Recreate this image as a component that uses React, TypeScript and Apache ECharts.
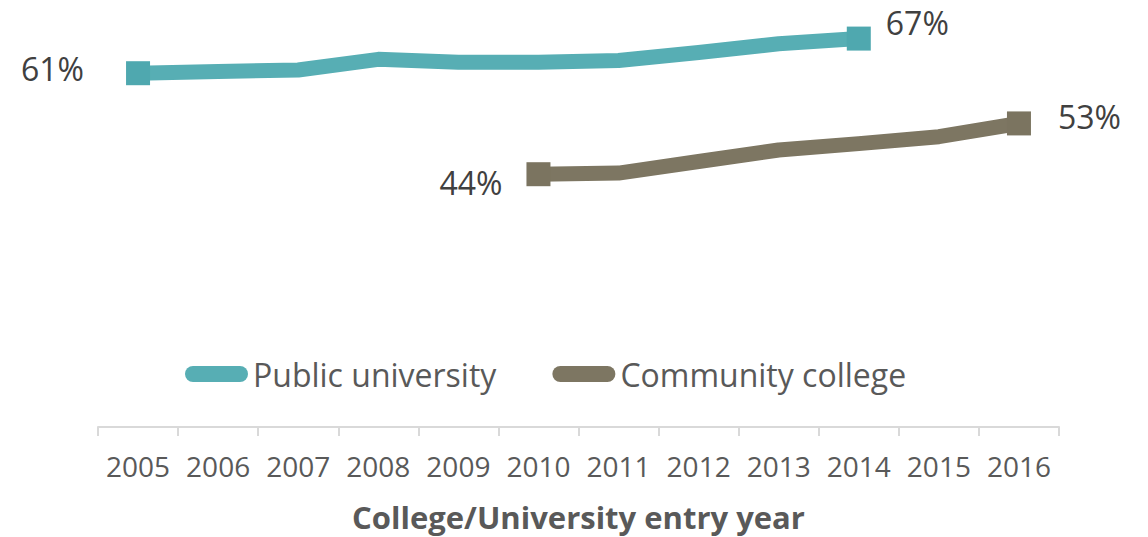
import React, { useEffect, useRef } from "react";
import * as echarts from "echarts";

const years = ["2005", "2006", "2007", "2008", "2009", "2010", "2011", "2012", "2013", "2014", "2015", "2016"];
const publicUniversity = [61.3, 61.6, 61.85, 63.7, 63.2, 63.2, 63.5, 64.9, 66.4, 67.3, null, null];
const communityCollege = [null, null, null, null, null, 43.8, 44.0, 46.0, 48.0, 49.1, 50.3, 52.6];
const seriesNames = ["Public university", "Community college"];
const axisTitle = "College/University entry year";

const TEAL = "#57AEB4";
const TEAL_MARK = "#4FA8AF";
const TAUPE = "#7D7662";
const TAUPE_MARK = "#7B7460";
const FONT = "'Open Sans', sans-serif";

type LabelCfg = { position: string; distance: number; offset: number[] };

function buildData(values: (number | null)[], first: LabelCfg, last: LabelCfg, markColor: string) {
  const idx = values.map((v, i) => (v == null ? -1 : i)).filter((i) => i >= 0);
  const a = idx[0];
  const b = idx[idx.length - 1];
  return values.map((v, i) => {
    if (v == null) return null;
    if (i === a || i === b) {
      const cfg = i === a ? first : last;
      return {
        value: v,
        symbol: "rect",
        symbolSize: 24,
        itemStyle: { color: markColor },
        label: {
          show: true,
          position: cfg.position,
          distance: cfg.distance,
          offset: cfg.offset,
          formatter: (p: any) => Math.round(p.value) + "%",
          fontFamily: FONT,
          fontSize: 32,
          color: "#404040",
        },
      };
    }
    return { value: v, symbol: "none" };
  });
}

export default function App() {
  const ref = useRef<HTMLDivElement>(null);
  useEffect(() => {
    document.body.style.margin = "0";
    const chart = echarts.init(ref.current!, null, { renderer: "svg" });
    const capsule = "path://M8,0 H55 A8,8 0 0 1 55,16 H8 A8,8 0 0 1 8,0 Z";
    chart.setOption({
      animation: false,
      grid: { left: 98, right: 89, top: 23, bottom: 109 },
      legend: {
        left: 185,
        top: 358,
        padding: 0,
        itemWidth: 63,
        itemHeight: 16,
        itemGap: 56,
        textStyle: { fontFamily: FONT, fontSize: 32, color: "#595959" },
        data: [
          { name: seriesNames[0], icon: capsule, itemStyle: { color: TEAL } },
          { name: seriesNames[1], icon: capsule, itemStyle: { color: TAUPE } },
        ],
      },
      xAxis: {
        type: "category",
        data: years,
        boundaryGap: true,
        axisLine: { lineStyle: { color: "#D9D9D9", width: 2 } },
        axisTick: { show: true, interval: 0, length: 9, lineStyle: { color: "#D9D9D9", width: 2 } },
        axisLabel: { interval: 0, margin: 25, fontFamily: FONT, fontSize: 28, color: "#595959" },
        name: axisTitle,
        nameLocation: "middle",
        nameGap: 74,
        nameTextStyle: { fontFamily: FONT, fontSize: 31, fontWeight: "bold", color: "#595959" },
      },
      yAxis: { type: "value", min: 0, max: 70, show: false },
      series: [
        {
          name: seriesNames[0],
          type: "line",
          symbol: "rect",
          symbolSize: 24,
          color: TEAL,
          lineStyle: { width: 15, color: TEAL, join: "round" },
          data: buildData(
            publicUniversity,
            { position: "left", distance: 42, offset: [0, -5] },
            { position: "right", distance: 15, offset: [0, -16] },
            TEAL_MARK
          ),
        },
        {
          name: seriesNames[1],
          type: "line",
          symbol: "rect",
          symbolSize: 24,
          color: TAUPE,
          lineStyle: { width: 15, color: TAUPE, join: "round" },
          data: buildData(
            communityCollege,
            { position: "left", distance: 24, offset: [0, 8] },
            { position: "right", distance: 27, offset: [0, -7] },
            TAUPE_MARK
          ),
        },
      ],
    });
    return () => chart.dispose();
  }, []);
  return <div ref={ref} style={{ width: 1148, height: 537, position: "absolute", left: 0, top: 0 }} />;
}
